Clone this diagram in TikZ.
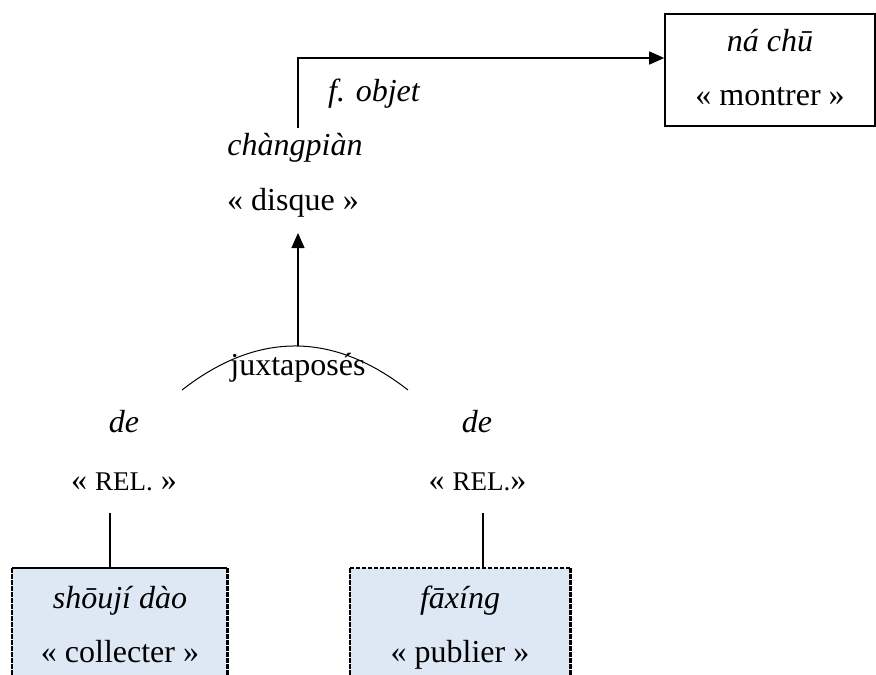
\documentclass[tikz,border=0pt]{standalone}
\usepackage{fontspec}
\setmainfont{Liberation Serif}
\usetikzlibrary{arrows.meta}
\definecolor{boxblue}{HTML}{DEE8F4}
\newcommand{\relsc}[1]{{\fontsize{27}{30}\selectfont #1}}
\tikzset{
  lbl/.style={font=\fontsize{32}{36}\selectfont, inner sep=0pt, anchor=base},
  conn/.style={line width=1.4pt},
  arr/.style={conn, -{Triangle[length=15pt,width=13pt]}},
  sidedash/.style={line width=2.2pt, dash pattern=on 5pt off 1pt},
  topdash/.style={line width=1.3pt, dash pattern=on 4pt off 2pt},
}
\begin{document}
\begin{tikzpicture}[x=1pt,y=-1pt]
\useasboundingbox (0,0) rectangle (876,675);
% top right box
\node[draw, line width=1.6pt, minimum width=210pt, minimum height=112pt, inner sep=0pt] (nachu) at (770,70) {};
\node[lbl] (nachuA) at (770,51) {\itshape ná chū};
\node[lbl] (nachuB) at (770,105) {« montrer »};
% chàngpiàn
\node[lbl] (chang) at (295,155) {\itshape chàngpiàn};
\node[lbl] (disque) at (293,210) {« disque »};
\coordinate (fo) at (298,128);
\draw[arr] (fo) |- ([yshift=12pt]nachu.west);
\node[lbl] (fobjet) at (374,101) {\itshape f. objet};
% juxtaposés
\node[lbl] (jux) at (298,375) {juxtaposés};
\coordinate (arcL) at (182,390);
\coordinate (arcR) at (408,390);
\coordinate (arcTop) at (298,346);
\draw[line width=1pt] (arcL) .. controls (257.3,331.3) and (332.7,331.3) .. (arcR);
\coordinate (disqueB) at (298,233);
\draw[arr] (arcTop) -- (disqueB);
% de / REL
\node[lbl] (deL) at (124,432) {\itshape de};
\node[lbl] (relL) at (124,490) {« \relsc{REL.} »};
\node[lbl] (deR) at (477,432) {\itshape de};
\node[lbl] (relR) at (477.5,490) {« \relsc{REL.}»};
% bottom boxes
\node[fill=boxblue, minimum width=215pt, minimum height=120pt, inner sep=0pt, anchor=north west] (boxL) at (12,568) {};
\node[fill=boxblue, minimum width=220pt, minimum height=120pt, inner sep=0pt, anchor=north west] (boxR) at (350,568) {};
\draw[line width=1.6pt] (boxL.north west) -- (boxL.north east);
\draw[sidedash] (boxL.north west) -- (boxL.south west);
\draw[sidedash] (boxL.north east) -- (boxL.south east);
\draw[topdash] (boxR.north west) -- (boxR.north east);
\draw[sidedash] (boxR.north west) -- (boxR.south west);
\draw[sidedash] (boxR.north east) -- (boxR.south east);
\node[lbl] (shouji) at (120,608) {\itshape shōují dào};
\node[lbl] (collect) at (120,662) {« collecter »};
\node[lbl] (faxing) at (460,608) {\itshape fāxíng};
\node[lbl] (publier) at (460,662) {« publier »};
% connectors
\coordinate (lineLtop) at (110,513);
\coordinate (lineRtop) at (483,513);
\draw[conn] (lineLtop) -- (lineLtop |- boxL.north);
\draw[conn] (lineRtop) -- (lineRtop |- boxR.north);
\end{tikzpicture}
\end{document}
